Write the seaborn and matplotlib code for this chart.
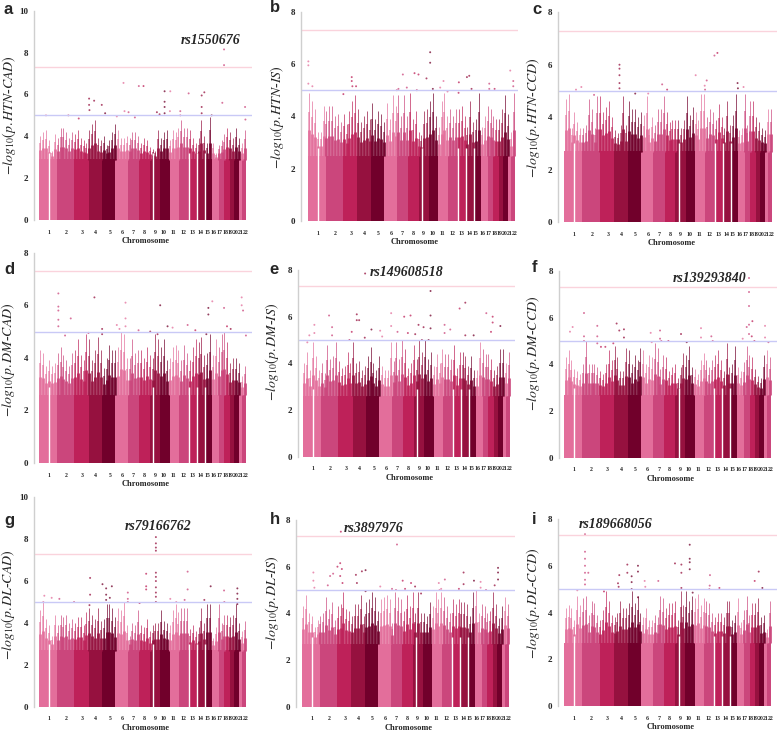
import numpy as np
import pandas as pd
import seaborn as sns
import matplotlib.pyplot as plt

sns.set_theme(style='white')
plt.rcParams['font.family'] = ['Liberation Serif', 'DejaVu Serif']
plt.rcParams['mathtext.fontset'] = 'stix'

# chromosome lengths in Mb, and where the labels sit
chrom_len = [249, 243, 198, 191, 181, 171, 159, 146, 141, 135, 135, 133, 115, 107, 102, 90, 81, 78, 59, 63, 48, 51]
chrom_labels = [str(i) for i in range(1, 23)]
tick_mb = [139, 380, 603, 789, 984, 1160, 1313, 1466, 1610, 1731, 1865, 2005, 2134, 2241, 2334, 2427, 2510, 2589, 2659, 2729, 2800, 2865]
gap_mb = [139, 1590, 2082, 2197, 2304]
chrom_colors = ['#E36E9B', '#CB467C', '#BE2159', '#96113F', '#71002B']

# top of the spikes along the genome (even steps), one list per panel
a_env = [4.0,4.2,4.3,3.8,3.3,4.1,3.9,4.4,4.4,4.2,3.9,4.2,4.1,4.3,3.9,3.8,3.7,4.3,4.6,4.8,3.9,3.8,4.0,3.6,3.8,4.2,4.6,4.3,3.9,3.9,4.0,3.9,4.2,4.2,4.0,3.7,3.9,3.8,3.5,3.4,3.3,4.3,3.9,4.2,4.3,3.8,4.3,4.2,4.4,4.8,4.4,4.4,4.3,3.9,3.7,3.9,4.8,4.0,3.7,4.9,3.7,3.2,3.6,3.8,4.1,4.4,4.2,3.9,4.4,3.9,3.7,4.3]
b_env = [4.9,4.6,4.3,3.4,3.4,4.4,4.2,4.4,4.4,4.0,4.1,3.8,4.1,3.7,4.2,4.6,4.8,4.3,3.8,4.0,4.2,3.9,4.5,3.9,4.2,4.1,3.8,4.5,3.9,4.8,4.4,4.8,4.0,4.8,4.0,4.9,3.9,4.2,3.4,3.3,4.2,4.3,4.6,4.9,4.0,3.6,4.6,4.9,4.0,4.3,4.0,4.3,4.3,4.4,4.0,3.6,4.6,3.8,3.9,4.9,3.6,4.0,4.4,4.3,4.0,3.9,3.9,4.3,4.8,4.1,3.4,4.9]
c_env = [4.7,4.9,3.6,4.2,3.8,3.6,3.6,3.7,4.7,4.3,3.6,4.8,4.8,4.2,4.4,4.6,4.0,3.5,3.4,3.7,4.8,3.7,4.6,4.3,4.3,4.0,4.2,4.1,4.8,3.6,4.0,3.7,4.3,4.3,4.8,4.2,3.8,3.9,3.9,3.9,3.6,3.9,4.8,4.1,4.4,4.2,3.9,4.9,4.9,4.0,4.3,4.2,3.9,4.5,4.0,3.6,4.6,3.7,4.1,4.9,3.5,3.6,4.9,3.7,4.6,4.6,4.0,3.8,3.6,3.5,4.3,4.3]
d_env = [4.3,4.2,3.7,3.9,3.7,3.8,4.2,4.4,4.1,3.9,3.7,4.2,4.3,4.7,4.1,3.9,4.9,4.7,3.9,4.3,4.8,4.3,3.6,4.0,4.5,4.3,4.3,4.4,5.0,4.9,4.0,4.0,4.7,4.2,4.3,4.3,4.0,4.4,4.1,4.0,4.9,4.7,4.4,4.7,3.9,4.0,4.4,4.5,4.3,3.9,4.5,4.2,3.9,4.4,4.7,4.6,4.8,4.1,4.2,4.9,4.1,4.7,4.4,4.9,5.0,4.6,3.8,4.0,4.0,3.8,3.3,3.7]
e_env = [4.0,4.5,3.7,4.9,4.3,3.7,4.0,3.6,4.8,4.2,4.3,4.9,4.1,3.8,3.9,4.5,4.0,4.9,4.0,4.1,3.7,3.9,4.3,4.7,4.0,3.7,4.3,3.9,3.7,3.7,4.9,4.1,4.9,4.2,5.0,4.6,3.8,4.0,4.8,4.2,5.0,4.5,5.0,4.2,4.5,3.9,4.4,4.0,4.6,4.4,4.4,4.2,4.8,3.8,4.5,4.5,4.3,3.9,4.3,3.7,3.7,4.9,4.6,4.4,4.4,4.2,3.7,3.9,4.6,4.6,4.0,4.5]
f_env = [4.3,4.6,4.2,3.8,3.7,3.6,4.0,5.0,4.0,4.0,4.0,3.9,3.7,3.6,4.0,4.6,4.2,4.8,4.3,3.7,3.7,4.7,4.6,4.0,4.4,4.2,4.7,4.6,4.0,4.4,4.3,4.9,4.7,3.8,4.4,4.3,3.7,3.9,4.0,3.4,3.9,4.5,4.4,4.8,3.9,3.8,3.6,4.2,4.5,4.2,3.9,4.2,4.4,4.6,4.2,3.7,4.9,3.9,4.0,4.8,3.9,3.7,4.1,4.8,4.4,4.3,3.8,3.5,3.4,4.4,4.6,4.3]
g_env = [4.6,5.0,4.2,3.9,3.4,4.4,3.9,4.4,4.3,4.4,4.0,4.2,4.0,4.3,4.3,3.9,4.5,4.7,4.4,4.2,4.7,4.1,4.2,4.9,4.9,4.7,4.3,4.7,4.6,5.0,3.9,3.4,4.0,3.9,4.6,3.9,3.8,4.2,3.6,3.9,4.0,4.0,4.6,4.1,4.0,3.9,4.6,4.9,4.5,4.7,4.7,4.7,3.7,3.9,3.6,3.8,4.7,4.0,4.9,4.9,3.3,3.8,4.9,4.0,4.4,4.4,4.3,4.4,4.9,4.0,3.6,4.1]
h_env = [4.3,4.8,4.0,3.9,3.4,3.7,3.9,4.0,4.7,4.2,4.5,3.7,4.3,4.4,4.9,4.2,4.1,3.9,4.4,4.4,4.8,3.9,4.5,4.6,4.9,4.7,4.1,4.6,4.7,4.8,4.6,3.6,4.9,4.7,4.6,4.1,4.8,4.3,4.9,4.0,4.9,4.0,4.0,3.9,4.5,4.3,4.9,4.6,4.9,4.7,4.3,4.0,4.6,4.4,4.6,4.5,4.5,4.4,3.9,4.9,5.0,4.0,4.4,4.3,4.0,4.1,4.9,4.4,3.8,4.3,4.7,4.4]
i_env = [4.2,4.3,4.2,3.7,4.7,4.3,4.6,4.7,3.9,4.5,4.4,3.9,3.7,4.1,4.9,4.5,3.9,3.8,4.0,4.5,4.2,4.2,4.4,4.9,4.4,4.7,4.0,3.8,4.2,3.7,3.7,3.9,3.8,4.7,4.6,4.2,4.4,4.4,4.5,3.7,4.9,4.3,4.9,4.5,4.7,4.6,4.8,4.3,4.6,4.5,4.4,4.0,3.8,4.0,4.0,3.8,4.5,4.5,3.7,3.9,4.6,3.6,4.1,4.7,3.9,4.4,4.4,4.6,3.8,3.9,3.3,4.5]

# isolated points: position in Mb, -log10 p
a_hit_x = [97,408,552,696,696,701,766,872,919,1081,1174,1188,1244,1332,1387,1452,1638,1675,1745,1745,1745,1745,1824,1819,1963,1963,2079,2260,2260,2260,2297,2399,2547,2571,2571,2863,2868]
a_hit_y = [5.0,5.0,4.85,5.8,5.5,5.25,5.7,5.5,5.1,4.95,6.55,5.2,5.15,4.9,6.4,6.4,5.15,5.05,6.15,5.65,5.4,5.1,6.15,5.2,5.2,5.0,6.05,5.95,5.4,5.1,6.1,5.0,5.6,8.15,7.4,5.4,4.8]
b_hit_x = [9,9,9,65,495,611,611,620,671,1259,1320,1375,1482,1537,1514,1648,1699,1699,1736,1884,1838,1940,2097,2093,2209,2241,2273,2519,2519,2593,2810,2852,2852,1236]
b_hit_y = [6.1,5.95,5.25,5.15,4.85,5.5,5.35,5.15,5.15,5.05,5.6,5.1,5.65,5.6,5.0,5.45,6.45,6.05,5.05,5.35,5.1,4.95,5.3,4.9,5.5,5.55,5.05,5.25,5.05,5.05,5.75,5.35,5.15,5.0]
c_hit_x = [162,236,412,764,764,764,764,764,982,1162,1355,1424,1819,1949,1944,1972,2079,2120,2399,2404,2482]
c_hit_y = [5.05,5.15,4.85,6.0,5.85,5.6,5.3,5.1,4.9,4.9,5.25,5.05,5.6,5.05,5.2,5.4,6.35,6.45,5.3,5.1,5.15]
d_hit_x = [269,269,269,269,269,441,362,770,687,877,877,1081,1118,1202,1202,1202,1383,1545,1647,1684,1786,1856,2065,2172,2325,2353,2353,2408,2571,2612,2663,2816,2816,2835,2875]
d_hit_y = [6.45,5.95,5.8,5.45,5.2,5.5,4.85,6.3,4.95,5.1,4.9,5.25,5.1,5.5,6.1,5.2,5.05,5.0,4.9,6.0,5.2,5.15,5.25,5.05,4.9,5.9,5.65,6.15,5.9,5.2,5.1,6.3,6.0,5.8,4.85]
e_hit_x = [88,60,158,158,362,404,404,645,677,747,747,780,858,951,1072,1100,1225,1225,1313,1406,1494,1457,1559,1605,1675,1652,1745,1772,1772,1772,1967,1967,2046,2176,2255,2255,2371,2547,2635,2635,2612,2742,863]
e_hit_y = [5.2,4.9,5.65,5.3,6.05,5.55,5.2,5.0,5.35,6.1,5.85,5.85,5.1,5.45,5.4,5.15,6.15,5.6,5.35,6.0,6.05,5.3,5.25,5.65,5.55,5.0,5.0,7.1,6.05,5.5,5.65,5.3,5.45,6.35,6.6,5.2,5.2,6.15,6.0,5.75,5.35,5.6,7.85]
f_hit_x = [79,116,274,274,274,459,459,459,510,571,682,728,765,830,830,1202,1216,1332,1332,1350,1448,1624,1703,1902,1902,2046,2065,2482,2570,2570,2570,2570,2570,2538,2617,2608,2645,2793,2793,2840]
f_hit_y = [5.4,5.6,6.2,5.2,5.0,5.65,5.2,4.9,4.75,4.75,4.9,5.75,5.45,5.5,5.15,5.35,4.95,5.45,5.1,5.0,5.0,5.3,4.95,5.55,5.15,5.2,5.0,5.1,7.7,7.1,6.5,5.7,5.3,5.6,5.85,5.2,5.0,5.65,5.15,4.95]
g_hit_x = [60,74,176,283,487,710,710,701,882,933,933,933,984,1012,1234,1234,1234,1397,1489,1489,1489,1624,1624,1624,1624,1624,1624,1624,1624,1624,1624,1624,1824,1907,2023,2065,2065,2297,2385,2571,2575,2756,2756,2756,2756]
g_hit_y = [5.0,5.3,5.2,5.15,5.0,6.15,5.35,4.85,5.85,5.65,5.35,5.1,5.2,5.75,5.45,5.15,5.0,4.95,6.35,5.75,5.6,8.1,7.8,7.6,7.45,6.4,6.2,6.0,5.7,5.45,5.25,5.0,5.15,5.0,5.1,6.45,5.6,5.1,5.75,5.55,5.0,5.65,5.4,5.15,4.9]
h_hit_x = [162,162,176,362,394,436,496,534,534,557,566,543,752,766,835,886,886,1090,1253,1322,1308,1401,1434,1517,1573,1656,1902,1912,1986,1935,2181,2246,2246,2390,2482,2482,2557,2677,2724,2724,2724]
h_hit_y = [5.75,5.4,5.1,5.2,5.6,5.7,6.0,6.15,5.6,5.9,5.3,7.5,5.65,5.3,5.8,5.85,4.95,5.15,5.05,6.95,5.0,5.4,5.05,5.3,5.15,4.85,5.3,5.0,5.45,5.05,5.05,5.75,5.25,5.4,5.35,5.1,5.0,5.2,5.95,5.75,5.45]
i_hit_x = [181,288,288,288,288,288,288,288,334,552,747,756,765,877,877,937,937,937,1025,1025,1025,1118,1127,1308,1540,1629,1629,1629,1745,1745,1745,1745,1786,2027,2023,2018,2158,2649,2705,2756]
i_hit_y = [4.95,7.35,6.6,6.3,6.0,5.7,5.4,5.2,5.7,4.9,5.25,5.1,5.6,6.05,5.7,5.55,5.3,5.0,6.0,5.75,4.65,5.35,5.1,5.35,6.1,6.05,5.7,5.05,6.9,6.3,6.15,5.85,4.85,5.6,5.15,5.0,5.05,5.35,5.75,5.05]

# height of the solid part of the columns for each panel
floors = dict(a=2.9, b=2.5, c=2.7, d=2.6, e=2.6, f=2.7, g=2.7, h=2.7, i=2.7)

traits = dict(a='HTN-CAD', b='HTN-IS', c='HTN-CCD', d='DM-CAD', e='DM-IS', f='DM-CCD', g='DL-CAD', h='DL-IS', i='DL-CCD')
snps = dict(a='rs1550676', e='rs149608518', f='rs139293840', g='rs79166762', h='rs3897976', i='rs189668056')
envs = dict(a=a_env, b=b_env, c=c_env, d=d_env, e=e_env, f=f_env, g=g_env, h=h_env, i=i_env)
hits = dict(a=(a_hit_x, a_hit_y), b=(b_hit_x, b_hit_y), c=(c_hit_x, c_hit_y), d=(d_hit_x, d_hit_y), e=(e_hit_x, e_hit_y),
            f=(f_hit_x, f_hit_y), g=(g_hit_x, g_hit_y), h=(h_hit_x, h_hit_y), i=(i_hit_x, i_hit_y))

# layout in pixels: axis x, bars left, bars right, line end, y of 0, y of top, top value
layout = dict(
    a=(34, 39, 246, 252, 220, 10.7, 10), b=(301, 307.7, 515, 518, 221, 11.7, 8), c=(558, 564.3, 772, 777, 222, 12.3, 8),
    d=(34, 39, 246, 252, 463, 252.7, 8), e=(298, 303, 510, 515, 456.7, 270, 8), f=(559, 564.3, 771, 777, 457.7, 271, 8),
    g=(34, 39, 246, 252, 706.7, 497.3, 10), h=(296, 301.7, 509, 515, 706.7, 520, 8), i=(558, 564.3, 771, 777, 706, 519, 8))
letter_xy = dict(a=(8, 9), b=(275, 8), c=(537, 9), d=(9, 269), e=(274, 269), f=(535, 268), g=(9, 521), h=(275, 519), i=(534, 519))
ylabel_xy = dict(a=(9, 115), b=(277, 117), c=(533, 118), d=(8, 360), e=(272, 352), f=(533, 353), g=(8, 605), h=(272, 603), i=(533, 603))
snp_xy = dict(a=(211, 40), e=(407, 272), f=(710, 278), g=(158, 527), h=(374, 529), i=(616, 524))
# each spike tapers: fraction of its height, line width, alpha
taper = [(1.0, 0.6, 0.8), (0.7, 1.1, 0.7), (0.4, 2.1, 0.85)]

W, H = 778, 732
starts = np.cumsum([0] + chrom_len)
total = starts[-1]
palette = {c: chrom_colors[n % 5] for n, c in enumerate(chrom_labels)}


def colour_at(pos):
    n = np.clip(np.searchsorted(starts, pos, side='right') - 1, 0, 21)
    return [chrom_colors[k % 5] for k in n]


fig = plt.figure(figsize=(W / 100, H / 100), dpi=100)

for key, (ax_x, left, right, end, y0, ytop, top) in layout.items():
    ax = fig.add_axes([ax_x / W, 1 - y0 / H, (end - ax_x) / W, (y0 - ytop) / H])
    ax.patch.set_alpha(0)
    px = total / (right - left)

    # chromosome blocks
    block = pd.DataFrame({'mb': starts[:-1] + 1, 'h': floors[key], 'chrom': chrom_labels})
    sns.histplot(data=block, x='mb', weights='h', hue='chrom', hue_order=chrom_labels, palette=palette, bins=starts.tolist(),
                 multiple='layer', alpha=1, linewidth=0, legend=False, ax=ax)

    # spikes above the blocks
    env = np.array(envs[key])
    pos = (np.arange(len(env)) + 0.5) * total / len(env)
    for frac, lw, alpha in taper:
        ax.vlines(pos, floors[key] - 0.02, floors[key] + frac * (env - floors[key]), colors=colour_at(pos), lw=lw, alpha=alpha)
    ax.vlines(gap_mb, 0, floors[key] + 0.3, colors='white', lw=1)

    # threshold lines
    ax.axhline(7.3, color='#FAD3DC', lw=1)
    ax.axhline(5, color='#C9C9F6', lw=1)

    hit = pd.DataFrame({'mb': hits[key][0], 'p': hits[key][1]})
    sns.scatterplot(data=hit, x='mb', y='p', c=colour_at(hit['mb'].values), s=2, linewidth=0, alpha=0.75, ax=ax, clip_on=False)

    ax.set_xlim(-(left - ax_x) * px, (end - left) * px)
    ax.set_ylim(0, top)
    ax.set_xticks(tick_mb)
    ax.set_xticklabels(chrom_labels, fontsize=4.2, fontweight='bold')
    ax.set_yticks(range(0, top + 1, 2))
    ax.set_yticklabels(range(0, top + 1, 2), fontsize=6.5, fontweight='bold')
    ax.tick_params(axis='x', length=0, pad=7)
    ax.tick_params(axis='y', length=0, pad=4)
    ax.set_xlabel('Chromosome', fontsize=6, fontweight='bold', va='center')
    ax.xaxis.set_label_coords(((left + right) / 2 - ax_x + 3) / (end - ax_x), -21 / (y0 - ytop))
    ax.set_ylabel('')
    sns.despine(ax=ax, bottom=True)
    ax.spines['left'].set_color('#CFCFCF')
    ax.spines['left'].set_linewidth(1)

    x, y = letter_xy[key]
    fig.text(x / W, 1 - y / H, key, fontsize=12, fontweight='bold', family='Liberation Sans', ha='center', va='center')
    x, y = ylabel_xy[key]
    first, second = traits[key].split('-')
    fig.text(x / W, 1 - y / H, r'$-log_{10}(p.' + first + '$-$' + second + ')$', fontsize=10, rotation=90, ha='center', va='center')
    if key in snps:
        x, y = snp_xy[key]
        fig.text(x / W, 1 - y / H, snps[key], fontsize=10, fontweight='bold', style='italic', ha='center', va='center')

fig.savefig('out.png', dpi=100)
